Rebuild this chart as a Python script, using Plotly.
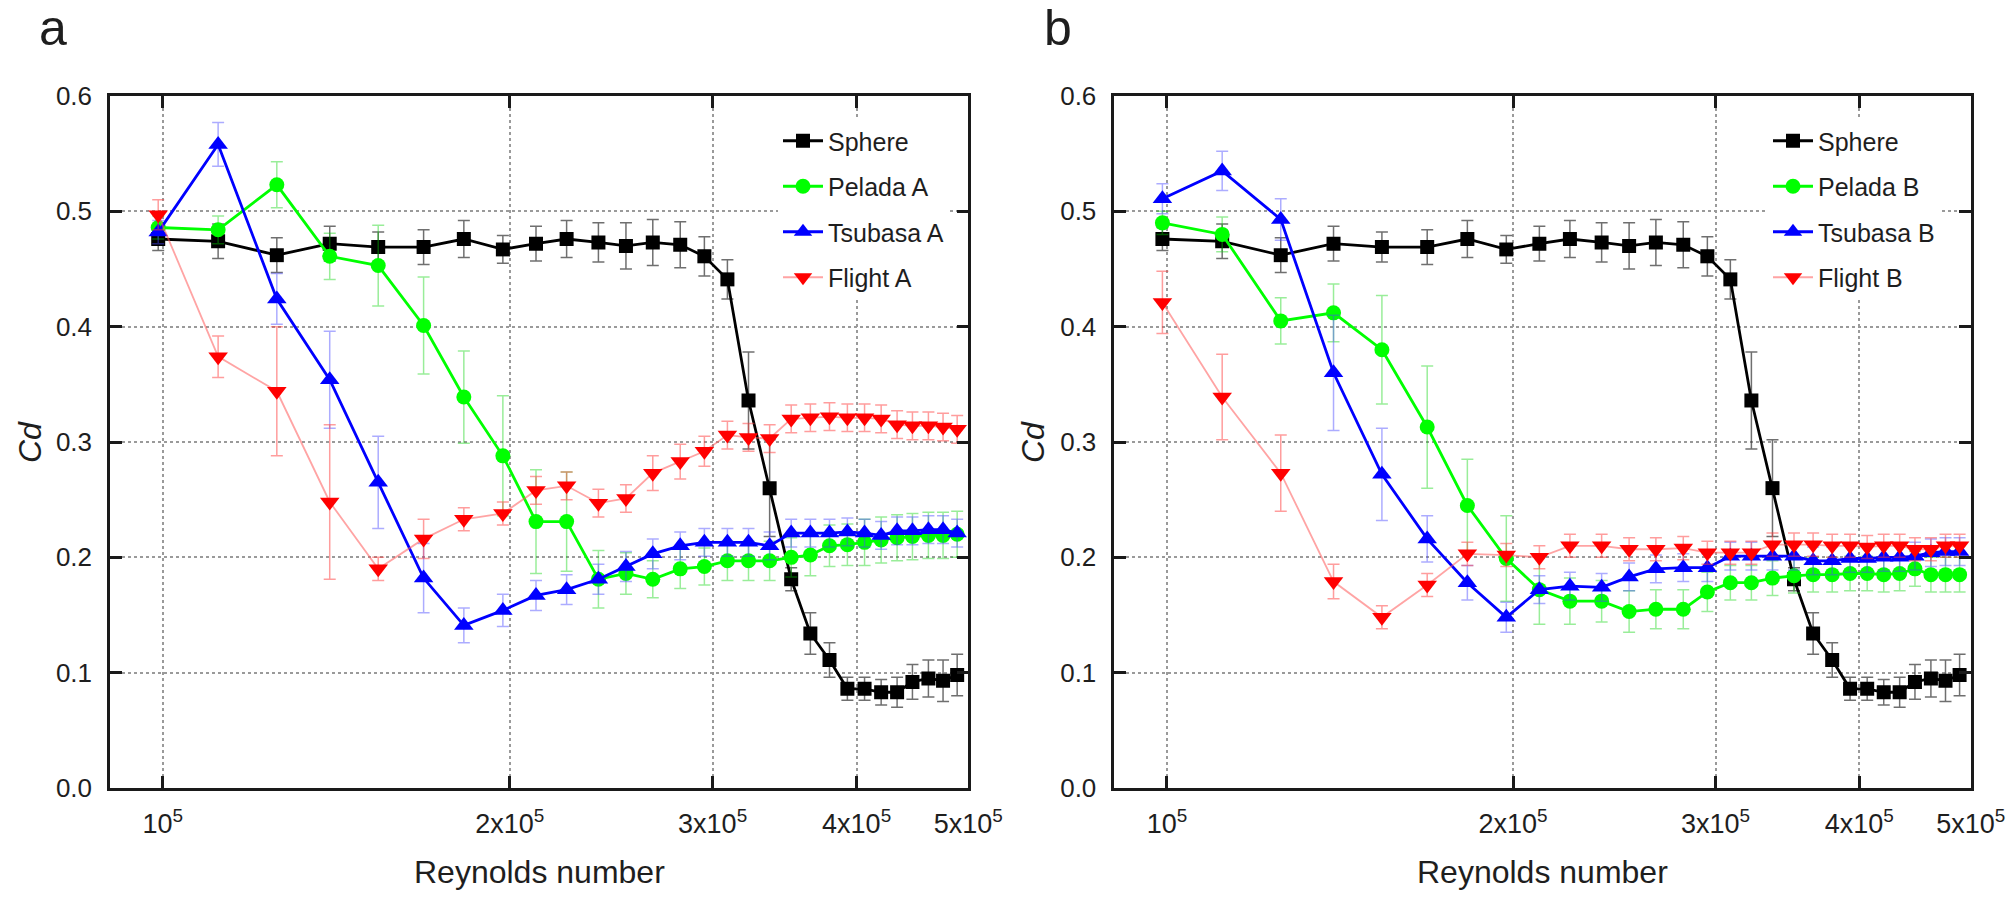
import plotly.graph_objects as go

# Reynolds numbers (shared by all series), in units of 1e5
re_x = [0.991, 1.117, 1.256, 1.396, 1.538, 1.684, 1.825, 1.973, 2.108, 2.241,
        2.388, 2.523, 2.662, 2.812, 2.951, 3.090, 3.223, 3.362, 3.510, 3.647,
        3.789, 3.927, 4.064, 4.201, 4.337, 4.472, 4.617, 4.754, 4.890]

sphere = [0.476, 0.474, 0.462, 0.472, 0.469, 0.469, 0.476, 0.467, 0.472, 0.476,
          0.473, 0.470, 0.473, 0.471, 0.461, 0.441, 0.336, 0.260, 0.181, 0.134,
          0.111, 0.086, 0.086, 0.083, 0.083, 0.092, 0.095, 0.093, 0.098]
sphere_err = [0.010, 0.015, 0.015, 0.015, 0.013, 0.015, 0.016, 0.012, 0.015, 0.016,
              0.017, 0.020, 0.020, 0.020, 0.017, 0.017, 0.042, 0.042, 0.010, 0.018,
              0.015, 0.010, 0.010, 0.011, 0.013, 0.015, 0.016, 0.018, 0.018]

pelada_a = [0.486, 0.484, 0.523, 0.461, 0.453, 0.401, 0.339, 0.288, 0.231, 0.231,
            0.181, 0.186, 0.181, 0.190, 0.192, 0.197, 0.197, 0.197, 0.200, 0.202,
            0.210, 0.211, 0.213, 0.215, 0.217, 0.218, 0.219, 0.219, 0.220]
pelada_a_err = [0.010, 0.012, 0.020, 0.020, 0.035, 0.042, 0.040, 0.052, 0.045, 0.043,
                0.025, 0.018, 0.016, 0.017, 0.016, 0.017, 0.017, 0.017, 0.017, 0.018,
                0.018, 0.018, 0.020, 0.020, 0.020, 0.020, 0.020, 0.020, 0.020]

tsubasa_a = [0.482, 0.558, 0.424, 0.354, 0.265, 0.182, 0.141, 0.154, 0.167, 0.172,
             0.181, 0.192, 0.203, 0.210, 0.213, 0.213, 0.213, 0.210, 0.221, 0.221,
             0.221, 0.222, 0.221, 0.219, 0.223, 0.223, 0.224, 0.224, 0.221]
tsubasa_a_err = [0.010, 0.019, 0.022, 0.042, 0.040, 0.030, 0.015, 0.014, 0.013, 0.013,
                 0.013, 0.013, 0.013, 0.012, 0.012, 0.012, 0.012, 0.012, 0.012, 0.012,
                 0.012, 0.012, 0.012, 0.012, 0.012, 0.012, 0.012, 0.012, 0.012]

flight_a = [0.497, 0.374, 0.344, 0.248, 0.190, 0.216, 0.233, 0.238, 0.258, 0.262,
            0.247, 0.251, 0.273, 0.283, 0.292, 0.306, 0.304, 0.303, 0.320, 0.321,
            0.322, 0.321, 0.321, 0.320, 0.315, 0.314, 0.314, 0.313, 0.311]
flight_a_err = [0.013, 0.018, 0.056, 0.067, 0.010, 0.017, 0.010, 0.010, 0.012, 0.012,
                0.012, 0.012, 0.015, 0.015, 0.013, 0.012, 0.012, 0.012, 0.012, 0.012,
                0.012, 0.012, 0.012, 0.012, 0.012, 0.012, 0.012, 0.012, 0.012]

pelada_b = [0.490, 0.480, 0.405, 0.412, 0.380, 0.313, 0.245, 0.199, 0.172, 0.162,
            0.162, 0.153, 0.155, 0.155, 0.170, 0.178, 0.178, 0.182, 0.184, 0.185,
            0.185, 0.186, 0.186, 0.185, 0.186, 0.190, 0.185, 0.185, 0.185]
pelada_b_err = [0.010, 0.015, 0.020, 0.025, 0.047, 0.053, 0.040, 0.037, 0.030, 0.020,
                0.018, 0.018, 0.017, 0.017, 0.017, 0.015, 0.015, 0.015, 0.015, 0.015,
                0.015, 0.015, 0.015, 0.015, 0.015, 0.015, 0.015, 0.015, 0.015]

tsubasa_b = [0.511, 0.535, 0.493, 0.360, 0.272, 0.216, 0.178, 0.148, 0.172, 0.175,
             0.174, 0.183, 0.190, 0.191, 0.191, 0.201, 0.201, 0.201, 0.201, 0.197,
             0.197, 0.199, 0.199, 0.200, 0.200, 0.201, 0.204, 0.205, 0.205]
tsubasa_b_err = [0.013, 0.017, 0.018, 0.050, 0.040, 0.020, 0.015, 0.013, 0.012, 0.012,
                 0.012, 0.012, 0.012, 0.012, 0.012, 0.012, 0.012, 0.012, 0.012, 0.012,
                 0.012, 0.012, 0.012, 0.012, 0.012, 0.012, 0.012, 0.012, 0.012]

flight_b = [0.421, 0.339, 0.273, 0.179, 0.148, 0.176, 0.203, 0.202, 0.200, 0.210,
            0.210, 0.207, 0.207, 0.208, 0.204, 0.204, 0.204, 0.211, 0.211, 0.211,
            0.210, 0.210, 0.209, 0.210, 0.210, 0.207, 0.207, 0.210, 0.210]
flight_b_err = [0.027, 0.037, 0.033, 0.015, 0.010, 0.010, 0.010, 0.010, 0.010, 0.010,
                0.010, 0.010, 0.010, 0.010, 0.010, 0.010, 0.010, 0.010, 0.010, 0.010,
                0.010, 0.010, 0.010, 0.010, 0.010, 0.010, 0.010, 0.010, 0.010]

x_tick_vals = [1e5, 2e5, 3e5, 4e5, 5e5]
x_tick_text = ["10<sup>5</sup>", "2x10<sup>5</sup>", "3x10<sup>5</sup>",
               "4x10<sup>5</sup>", "5x10<sup>5</sup>"]
y_tick_vals = [0.0, 0.1, 0.2, 0.3, 0.4, 0.5, 0.6]
y_tick_text = ["0.0", "0.1", "0.2", "0.3", "0.4", "0.5", "0.6"]

re_vals = [v * 1e5 for v in re_x]
W, H = 2013, 897
FONT = "Liberation Sans, Arial, sans-serif"
TXT = "#1e1e1e"

styles = {
    "sphere": dict(color="#000000", line=dict(color="#000000", width=2.8),
                   symbol="square", size=14, ecol="rgba(50,50,50,0.7)"),
    "pelada": dict(color="#00ff00", line=dict(color="#00ff00", width=2.8),
                   symbol="circle", size=15, ecol="rgba(0,210,0,0.4)"),
    "tsubasa": dict(color="#0000ff", line=dict(color="#0000ff", width=2.8),
                    symbol="triangle-up", size=17, ecol="rgba(70,70,255,0.45)"),
    "flight": dict(color="#ff0000", line=dict(color="rgba(255,90,90,0.55)", width=1.8),
                   symbol="triangle-down", size=17, ecol="rgba(255,60,60,0.5)"),
}

fig = go.Figure()

def add(name, key, y, err, xa, ya, leg):
    s = styles[key]
    fig.add_trace(go.Scatter(
        x=re_vals, y=y, name=name, mode="lines+markers",
        line=s["line"],
        marker=dict(symbol=s["symbol"], size=s["size"], color=s["color"],
                    line=dict(width=0)),
        error_y=dict(type="data", array=err, color=s["ecol"], thickness=1.5, width=6),
        xaxis=xa, yaxis=ya, legend=leg, legendgroup=name + leg,
    ))

add("Sphere", "sphere", sphere, sphere_err, "x", "y", "legend")
add("Pelada A", "pelada", pelada_a, pelada_a_err, "x", "y", "legend")
add("Tsubasa A", "tsubasa", tsubasa_a, tsubasa_a_err, "x", "y", "legend")
add("Flight A", "flight", flight_a, flight_a_err, "x", "y", "legend")

add("Sphere", "sphere", sphere, sphere_err, "x2", "y2", "legend2")
add("Pelada B", "pelada", pelada_b, pelada_b_err, "x2", "y2", "legend2")
add("Tsubasa B", "tsubasa", tsubasa_b, tsubasa_b_err, "x2", "y2", "legend2")
add("Flight B", "flight", flight_b, flight_b_err, "x2", "y2", "legend2")

y_dom = [(H - 788) / H, (H - 96) / H]
xa_common = dict(
    type="log", range=[4.95424, 5.69897], tickvals=x_tick_vals, ticktext=x_tick_text,
    showgrid=True, gridcolor="#9a9a9a", griddash="dot", gridwidth=1.5,
    showline=True, linecolor="#1a1a1a", linewidth=2.5, mirror="ticks",
    ticks="inside", ticklen=12, tickwidth=2.5, tickcolor="#1a1a1a",
    tickfont=dict(family=FONT, size=27, color=TXT), ticklabelstandoff=10,
    zeroline=False, automargin=False,
)
ya_common = dict(
    range=[0, 0.6], tickvals=y_tick_vals, ticktext=y_tick_text,
    showgrid=True, gridcolor="#9a9a9a", griddash="dot", gridwidth=1.5,
    showline=True, linecolor="#1a1a1a", linewidth=2.5, mirror="ticks",
    ticks="inside", ticklen=12, tickwidth=2.5, tickcolor="#1a1a1a",
    tickfont=dict(family=FONT, size=26, color=TXT), ticklabelstandoff=10,
    zeroline=False, automargin=False,
)

leg_common = dict(
    font=dict(family=FONT, size=25, color=TXT), bgcolor="white",
    borderwidth=0, traceorder="grouped", tracegroupgap=10,
    xanchor="left", yanchor="top", itemwidth=40,
)

def ann(text, x, y, size, angle=0, xa="center"):
    return dict(text=text, x=x / W, y=(H - y) / H, xref="paper", yref="paper",
                showarrow=False, textangle=angle,
                font=dict(family=FONT, size=size, color=TXT),
                xanchor=xa, yanchor="middle")

fig.update_layout(
    width=W, height=H,
    margin=dict(l=0, r=0, t=0, b=0),
    paper_bgcolor="white", plot_bgcolor="white",
    showlegend=True,
    xaxis=dict(domain=[110 / W, 968.3 / W], anchor="y", **xa_common),
    yaxis=dict(domain=y_dom, anchor="x", **ya_common),
    xaxis2=dict(domain=[1114.3 / W, 1970.7 / W], anchor="y2", **xa_common),
    yaxis2=dict(domain=y_dom, anchor="x2", **ya_common),
    legend=dict(x=778 / W, y=(H - 118) / H, **leg_common),
    legend2=dict(x=1768 / W, y=(H - 118) / H, **leg_common),
    annotations=[
        ann("a", 53, 28, 50),
        ann("b", 1058, 28, 50),
        ann("Reynolds number", 539, 872, 32),
        ann("Reynolds number", 1542, 872, 32),
        ann("<i>Cd</i>", 30, 442, 32, angle=-90),
        ann("<i>Cd</i>", 1033, 442, 32, angle=-90),
    ],
)

fig.write_html(
    "out.html",
    config={"displayModeBar": False},
    post_script="document.body.style.margin='0';document.body.style.overflow='hidden';",
)
